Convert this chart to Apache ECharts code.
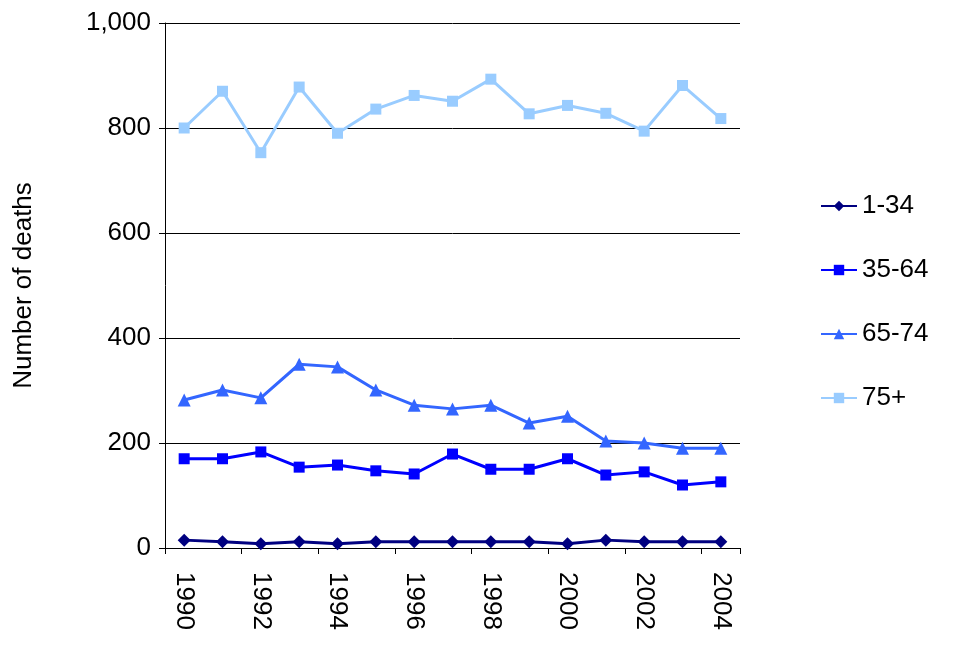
<!DOCTYPE html>
<html><head><meta charset="utf-8">
<script src="https://cdn.jsdelivr.net/npm/echarts@6/dist/echarts.min.js"></script>
<style>html,body{margin:0;background:#fff}#c{width:968px;height:647px}</style>
</head><body><div id="c"></div>
<script>
const years = ["1990","1991","1992","1993","1994","1995","1996","1997","1998","1999","2000","2001","2002","2003","2004"];
const age1to34 = [15,12,8,12,8,12,12,12,12,12,8,15,12,12,12];
const age35to64 = [170,170,183,154,158,147,141,179,150,150,170,139,145,120,126];
const age65to74 = [282,301,286,350,345,301,272,265,272,238,251,204,200,190,190];
const age75plus = [800,870,753,878,790,836,862,851,893,827,843,828,794,881,818];

const chart = echarts.init(document.getElementById("c"));
const font = "Liberation Sans, Arial, sans-serif";
function line(name, data, color, symbol, size) {
  return { name, type: "line", data, symbol, symbolSize: size, showAllSymbol: true,
    itemStyle: { color }, lineStyle: { color, width: 3 } };
}
chart.setOption({
  animation: false,
  grid: { left: 165, right: 228, top: 23, bottom: 99 },
  legend: {
    orient: "vertical", left: 815, top: 188, itemGap: 38, itemWidth: 36, itemHeight: 13,
    textStyle: { fontFamily: font, fontSize: 26, color: "#000" },
    data: ["1-34","35-64","65-74","75+"]
  },
  xAxis: {
    type: "category", data: years, boundaryGap: true,
    axisLine: { lineStyle: { color: "#000" } },
    axisTick: { show: true, alignWithLabel: false, length: 6, lineStyle: { color: "#000" } },
    axisLabel: { interval: 1, rotate: -90, fontFamily: font, fontSize: 26, color: "#000", margin: 24 }
  },
  yAxis: {
    type: "value", min: 0, max: 1000, interval: 200,
    name: "Number of deaths", nameLocation: "middle", nameGap: 128,
    nameTextStyle: { fontFamily: font, fontSize: 26, color: "#000" },
    axisLine: { show: true, lineStyle: { color: "#000" } },
    axisTick: { show: true, length: 6, lineStyle: { color: "#000" } },
    splitLine: { lineStyle: { color: "#000" } },
    axisLabel: { fontFamily: font, fontSize: 26, color: "#000", margin: 14,
      formatter: v => v.toLocaleString("en-US") }
  },
  series: [
    line("1-34", age1to34, "#000080", "diamond", 13),
    line("35-64", age35to64, "#0000ff", "rect", 11),
    line("65-74", age65to74, "#3366ff", "triangle", 13),
    line("75+", age75plus, "#99ccff", "rect", 11)
  ]
});
</script></body></html>
